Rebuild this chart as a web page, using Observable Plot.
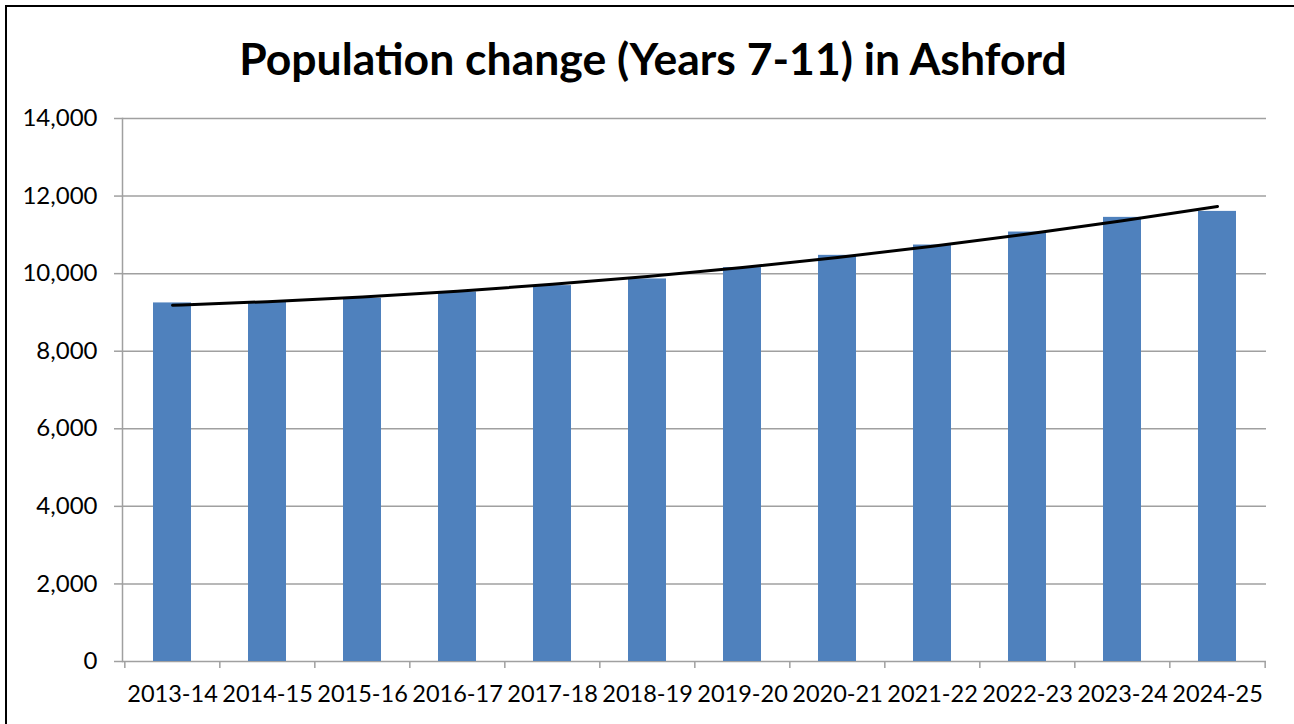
<!DOCTYPE html>
<html>
<head>
<meta charset="utf-8">
<script src="https://cdn.jsdelivr.net/npm/d3@7"></script>
<script src="https://cdn.jsdelivr.net/npm/@observablehq/plot@0.6"></script>
<style>
  html, body { margin: 0; padding: 0; background: #fff; overflow: hidden; }
  #wrap { position: relative; width: 1294px; height: 724px; }
  #frame { position: absolute; left: 5px; top: 5px; width: 1400px; height: 800px; border: 2px solid #000; box-sizing: border-box; }
  #title { position: absolute; left: 6px; top: 36px; width: 1294px; text-align: center; font-family: Lato, sans-serif; font-weight: bold; font-size: 44.5px; color: #000; line-height: 1; }
  #chart { position: absolute; left: 0; top: 0; }
</style>
</head>
<body>
<div id="wrap">
  <div id="frame"></div>
  <div id="chart"></div>
  <div id="title">Population change (Years 7-11) in Ashford</div>
</div>
<script>
const years = ["2013-14","2014-15","2015-16","2016-17","2017-18","2018-19","2019-20","2020-21","2021-22","2022-23","2023-24","2024-25"];
const population = [9245, 9270, 9365, 9528, 9691, 9863, 10155, 10472, 10738, 11073, 11451, 11605];
const yTicks = [0, 2000, 4000, 6000, 8000, 10000, 12000, 14000];

// Polynomial (order 2) trendline, least squares over the category index
function polyfit2(ys) {
  let s = [0,0,0,0,0], t = [0,0,0];
  ys.forEach((y, x) => {
    for (let k = 0; k < 5; k++) s[k] += Math.pow(x, k);
    for (let k = 0; k < 3; k++) t[k] += y * Math.pow(x, k);
  });
  const A = [[s[0], s[1], s[2], t[0]], [s[1], s[2], s[3], t[1]], [s[2], s[3], s[4], t[2]]];
  for (let i = 0; i < 3; i++) {
    for (let j = i + 1; j < 3; j++) {
      const f = A[j][i] / A[i][i];
      for (let k = i; k < 4; k++) A[j][k] -= f * A[i][k];
    }
  }
  const c = [0,0,0];
  for (let i = 2; i >= 0; i--) {
    let v = A[i][3];
    for (let k = i + 1; k < 3; k++) v -= A[i][k] * c[k];
    c[i] = v / A[i][i];
  }
  return x => c[0] + c[1] * x + c[2] * x * x;
}
const fit = polyfit2(population);
const data = years.map((year, i) => ({year, value: population[i], trend: fit(i)}));

const W = 1294, H = 724, ML = 122, MR = 28, MT = 118, MB = 63;
const step = (W - ML - MR) / years.length;

const chart = Plot.plot({
  width: W, height: H,
  marginLeft: ML, marginRight: MR, marginTop: MT, marginBottom: MB,
  style: {fontFamily: "Lato, sans-serif", fontSize: "24px", color: "#000", background: "transparent", overflow: "visible"},
  x: {domain: years, paddingInner: 0.6, paddingOuter: 0.3, label: null},
  y: {domain: [0, 14000], label: null},
  marks: [
    Plot.gridY(yTicks, {stroke: "#a0a0a0", strokeOpacity: 1, strokeWidth: 1.5}),
    Plot.axisY(yTicks, {tickSize: 8, tickPadding: 17, tickFormat: d3.format(","), stroke: "#a0a0a0", strokeWidth: 1.5, fill: "#000", fontSize: 24, label: null}),
    Plot.frame({anchor: "left", stroke: "#a0a0a0", strokeWidth: 1.5}),
    Plot.barY(data, {x: "year", y: "value", fill: "#4F81BD"}),
    Plot.ruleX(data, {x: "year", y1: 0, y2: 0, insetTop: 7, dx: -step / 2, stroke: "#a0a0a0", strokeWidth: 1.5}),
    Plot.ruleX(data.slice(-1), {x: "year", y1: 0, y2: 0, insetTop: 7, dx: step / 2, stroke: "#a0a0a0", strokeWidth: 1.5}),
    Plot.axisX({tickSize: 0, tickPadding: 24, fontSize: 23.5, fill: "#000", label: null}),
    Plot.line(data, {x: "year", y: "trend", curve: "natural", stroke: "#000", strokeWidth: 3})
  ]
});
document.getElementById("chart").appendChild(chart);
</script>
</body>
</html>
